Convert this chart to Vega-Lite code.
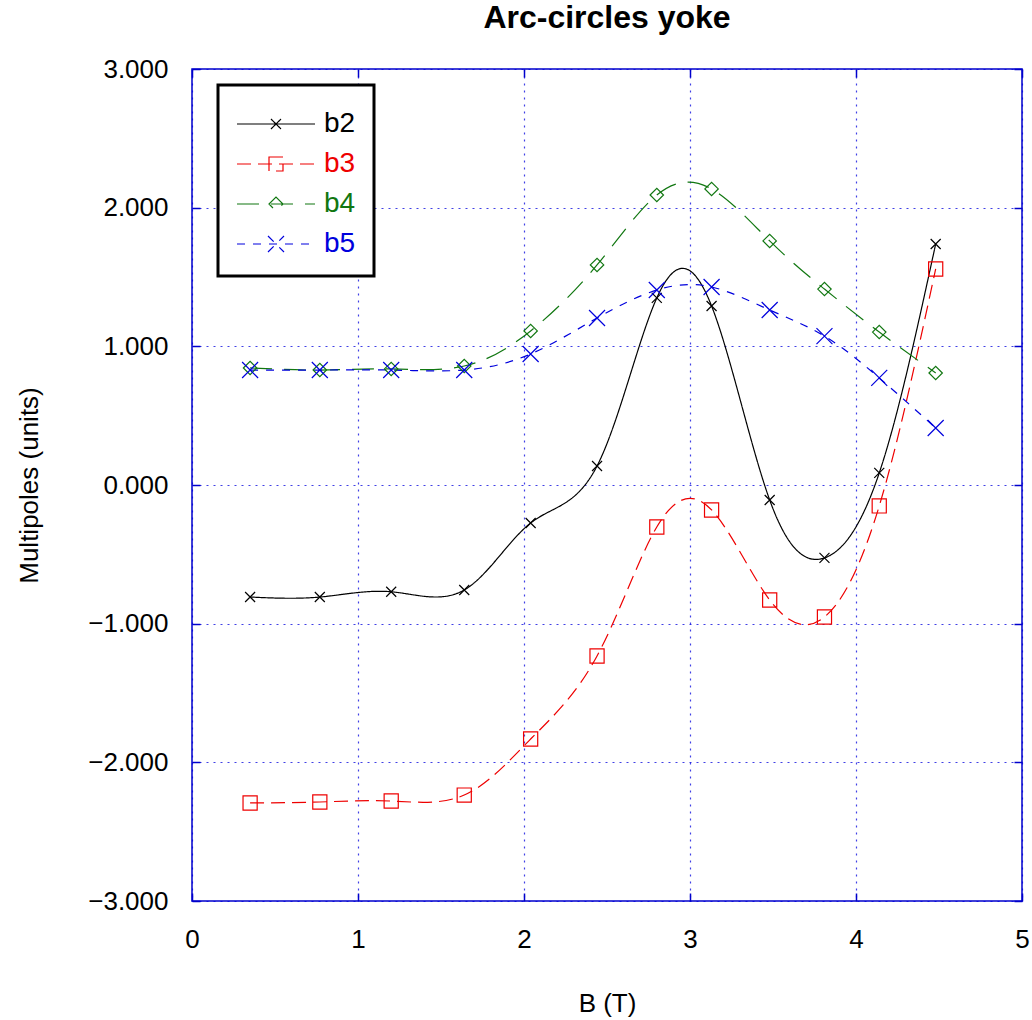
{
  "$schema": "https://vega.github.io/schema/vega-lite/v6.json",
  "width": 830,
  "height": 832,
  "autosize": {"type": "none"},
  "padding": {"left": 192, "top": 69, "right": 10, "bottom": 119},
  "background": "white",
  "title": {"text": "Arc-circles yoke", "fontSize": 32, "fontWeight": "bold", "font": "Liberation Sans", "color": "black", "anchor": "middle", "frame": "group", "baseline": "alphabetic", "offset": -4},
  "config": {
    "view": {"stroke": "#0000cc", "strokeWidth": 1.5},
    "font": "Liberation Sans",
    "axis": {"labelFont": "Liberation Sans", "titleFont": "Liberation Sans", "labelColor": "black", "titleColor": "black", "titleFontWeight": "normal", "labelFlush": false}
  },
  "data": {"values": [
    {"series": "b2", "B": 0.35, "M": -0.808}, {"series": "b2", "B": 0.77, "M": -0.808}, {"series": "b2", "B": 1.2, "M": -0.77}, {"series": "b2", "B": 1.64, "M": -0.757},
    {"series": "b2", "B": 2.04, "M": -0.274}, {"series": "b2", "B": 2.44, "M": 0.137}, {"series": "b2", "B": 2.8, "M": 1.349}, {"series": "b2", "B": 3.13, "M": 1.291},
    {"series": "b2", "B": 3.48, "M": -0.108}, {"series": "b2", "B": 3.81, "M": -0.526}, {"series": "b2", "B": 4.14, "M": 0.087}, {"series": "b2", "B": 4.48, "M": 1.738},
    {"series": "b3", "B": 0.35, "M": -2.293}, {"series": "b3", "B": 0.77, "M": -2.286}, {"series": "b3", "B": 1.2, "M": -2.279}, {"series": "b3", "B": 1.64, "M": -2.236},
    {"series": "b3", "B": 2.04, "M": -1.832}, {"series": "b3", "B": 2.44, "M": -1.233}, {"series": "b3", "B": 2.8, "M": -0.303}, {"series": "b3", "B": 3.13, "M": -0.18},
    {"series": "b3", "B": 3.48, "M": -0.829}, {"series": "b3", "B": 3.81, "M": -0.952}, {"series": "b3", "B": 4.14, "M": -0.151}, {"series": "b3", "B": 4.48, "M": 1.558},
    {"series": "b4", "B": 0.35, "M": 0.844}, {"series": "b4", "B": 0.77, "M": 0.829}, {"series": "b4", "B": 1.2, "M": 0.837}, {"series": "b4", "B": 1.64, "M": 0.858},
    {"series": "b4", "B": 2.04, "M": 1.111}, {"series": "b4", "B": 2.44, "M": 1.587}, {"series": "b4", "B": 2.8, "M": 2.091}, {"series": "b4", "B": 3.13, "M": 2.135},
    {"series": "b4", "B": 3.48, "M": 1.76}, {"series": "b4", "B": 3.81, "M": 1.413}, {"series": "b4", "B": 4.14, "M": 1.103}, {"series": "b4", "B": 4.48, "M": 0.808},
    {"series": "b5", "B": 0.35, "M": 0.829}, {"series": "b5", "B": 0.77, "M": 0.829}, {"series": "b5", "B": 1.2, "M": 0.829}, {"series": "b5", "B": 1.64, "M": 0.829},
    {"series": "b5", "B": 2.04, "M": 0.945}, {"series": "b5", "B": 2.44, "M": 1.204}, {"series": "b5", "B": 2.8, "M": 1.406}, {"series": "b5", "B": 3.13, "M": 1.428},
    {"series": "b5", "B": 3.48, "M": 1.262}, {"series": "b5", "B": 3.81, "M": 1.074}, {"series": "b5", "B": 4.14, "M": 0.772}, {"series": "b5", "B": 4.48, "M": 0.411}
  ]},
  "resolve": {"axis": {"x": "independent", "y": "independent"}},
  "layer": [
    {
      "mark": {"type": "line", "interpolate": "natural", "strokeWidth": 1.2},
      "encoding": {
        "x": {"field": "B", "type": "quantitative", "scale": {"domain": [0, 5], "nice": false, "zero": false},
          "axis": {"orient": "bottom", "title": "B (T)", "titleFontSize": 26, "titlePadding": 38, "labelFontSize": 26, "labelPadding": 33, "values": [0, 1, 2, 3, 4, 5], "format": "d",
            "domain": false, "tickSize": -8, "tickColor": "#0000cc", "tickWidth": 1.5, "grid": true, "gridColor": "#0000dd", "gridOpacity": 0.75, "gridDash": [2, 5], "gridWidth": 1.2}},
        "y": {"field": "M", "type": "quantitative", "scale": {"domain": [-3, 3], "nice": false, "zero": false},
          "axis": {"orient": "left", "title": "Multipoles (units)", "titleFontSize": 26, "titlePadding": 45, "labelFontSize": 26, "labelPadding": 32, "values": [-3, -2, -1, 0, 1, 2, 3], "format": ".3f",
            "domain": false, "tickSize": -8, "tickColor": "#0000cc", "tickWidth": 1.5, "grid": true, "gridColor": "#0000dd", "gridOpacity": 0.75, "gridDash": [2, 5], "gridWidth": 1.2}},
        "color": {"field": "series", "type": "nominal",
          "scale": {"domain": ["b2", "b3", "b4", "b5"], "range": ["#000000", "#ee0000", "#117711", "#0000dd"]},
          "legend": {"orient": "none", "legendX": 26, "legendY": 16, "title": null, "strokeColor": "black", "fillColor": "white",
            "padding": 18, "rowPadding": 5, "labelFontSize": 28, "labelFont": "Liberation Sans", "labelOffset": 46, "symbolSize": 1600, "symbolStrokeWidth": 1.2,
            "encode": {
              "legend": {"update": {"strokeWidth": {"value": 3}}},
              "labels": {"update": {"fill": {"scale": "color", "field": "value"}}},
              "symbols": {"update": {
                "shape": {"signal": "datum.value === 'b2' ? 'M-1,0L2.9,0M0.7,-0.25L1.2,0.25M0.7,0.25L1.2,-0.25' : datum.value === 'b3' ? 'M-1,0L2.9,0M0.6,-0.35L1.3,-0.35L1.3,0.35L0.6,0.35Z' : datum.value === 'b4' ? 'M-1,0L2.9,0M0.6,0L0.95,-0.35L1.3,0L0.95,0.35Z' : 'M-1,0L2.9,0M0.55,-0.4L1.35,0.4M0.55,0.4L1.35,-0.4'"},
                "stroke": {"scale": "color", "field": "value"},
                "fill": {"value": "transparent"},
                "size": {"value": 1600},
                "strokeWidth": {"value": 1.2}
              }}
            }}},
        "strokeDash": {"field": "series", "type": "nominal",
          "scale": {"domain": ["b2", "b3", "b4", "b5"], "range": [[1, 0], [14, 7], [22, 12], [8, 8]]}, "legend": null}
      }
    },
    {
      "transform": [{"filter": "datum.series === 'b2'"}],
      "mark": {"type": "point", "filled": false, "strokeWidth": 1.2, "opacity": 1, "shape": "M-1,-1L1,1M-1,1L1,-1", "size": 100},
      "encoding": {
        "x": {"field": "B", "type": "quantitative",
          "axis": {"orient": "top", "title": null, "labels": false, "domain": false, "grid": false, "values": [0, 1, 2, 3, 4, 5], "tickSize": -8, "tickColor": "#0000cc", "tickWidth": 1.5}},
        "y": {"field": "M", "type": "quantitative",
          "axis": {"orient": "right", "title": null, "labels": false, "domain": false, "grid": false, "values": [-3, -2, -1, 0, 1, 2, 3], "tickSize": -8, "tickColor": "#0000cc", "tickWidth": 1.5}},
        "color": {"field": "series", "type": "nominal", "legend": null}
      }
    },
    {
      "transform": [{"filter": "datum.series === 'b3'"}],
      "mark": {"type": "point", "filled": false, "strokeWidth": 1.2, "opacity": 1, "shape": "square", "size": 200},
      "encoding": {
        "x": {"field": "B", "type": "quantitative", "axis": null},
        "y": {"field": "M", "type": "quantitative", "axis": null},
        "color": {"field": "series", "type": "nominal", "legend": null}
      }
    },
    {
      "transform": [{"filter": "datum.series === 'b4'"}],
      "mark": {"type": "point", "filled": false, "strokeWidth": 1.2, "opacity": 1, "shape": "diamond", "size": 180},
      "encoding": {
        "x": {"field": "B", "type": "quantitative", "axis": null},
        "y": {"field": "M", "type": "quantitative", "axis": null},
        "color": {"field": "series", "type": "nominal", "legend": null}
      }
    },
    {
      "transform": [{"filter": "datum.series === 'b5'"}],
      "mark": {"type": "point", "filled": false, "strokeWidth": 1.2, "opacity": 1, "shape": "M-1,-1L1,1M-1,1L1,-1", "size": 256},
      "encoding": {
        "x": {"field": "B", "type": "quantitative", "axis": null},
        "y": {"field": "M", "type": "quantitative", "axis": null},
        "color": {"field": "series", "type": "nominal", "legend": null}
      }
    }
  ]
}
